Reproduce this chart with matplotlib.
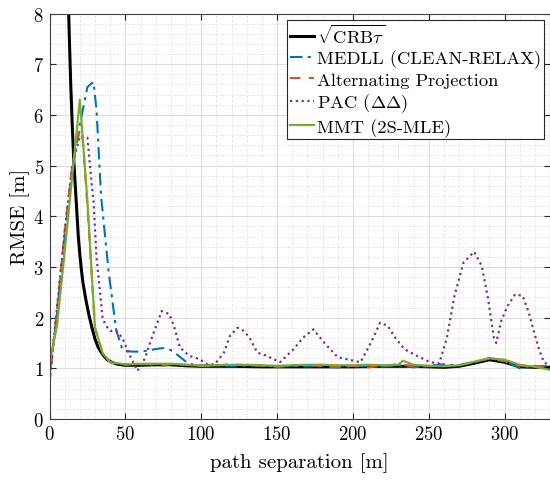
import numpy as np
import matplotlib
matplotlib.use("Agg")
import matplotlib.pyplot as plt
from matplotlib.ticker import MultipleLocator

plt.rcParams['font.family'] = 'cmr10'
plt.rcParams['mathtext.fontset'] = 'cm'
plt.rcParams['axes.formatter.use_mathtext'] = True

# sqrt(CRB tau)
x_crb = [12, 13, 14, 15, 16, 17, 18, 19, 20, 21, 22, 24, 26, 28, 30, 32, 34, 36, 38, 41, 45, 50,
         60, 70, 80, 90, 100, 120, 140, 160, 180, 200, 220, 240, 250, 260, 270, 280, 290, 300,
         310, 320, 330]
y_crb = [8.8, 7.6, 6.6, 5.8, 5.1, 4.6, 4.1, 3.6, 3.25, 2.95, 2.7, 2.35, 2.05, 1.8, 1.58, 1.42,
         1.32, 1.24, 1.17, 1.12, 1.08, 1.06, 1.06, 1.07, 1.07, 1.05, 1.04, 1.04, 1.03, 1.03, 1.03,
         1.03, 1.04, 1.04, 1.03, 1.02, 1.04, 1.1, 1.17, 1.12, 1.03, 1.02, 1.02]

# MEDLL (CLEAN-RELAX)
x_medll = [0, 5, 10, 15, 20, 25, 29, 31, 34, 39, 44, 48, 50, 55, 60, 65, 70, 75, 80, 85, 90, 95,
           100, 110, 120, 130, 140, 150, 160, 170, 180, 190, 200, 210, 220, 230, 240, 250, 260,
           270, 280, 290, 300, 310, 320, 330]
y_medll = [0.85, 2.1, 3.6, 4.9, 5.8, 6.55, 6.65, 6.1, 4.4, 2.9, 1.75, 1.38, 1.34, 1.33, 1.33,
           1.35, 1.38, 1.4, 1.36, 1.25, 1.13, 1.07, 1.05, 1.06, 1.05, 1.05, 1.06, 1.03, 1.05,
           1.04, 1.05, 1.02, 1.04, 1.05, 1.04, 1.06, 1.02, 1.05, 1.08, 1.06, 1.12, 1.2, 1.15,
           1.0, 1.04, 1.05]

# Alternating Projection
x_ap = [0, 5, 10, 15, 20, 22, 25, 30, 35, 40, 45, 50, 55, 60, 65, 70, 75, 80, 90, 100, 110, 120,
        130, 140, 150, 160, 170, 180, 190, 200, 210, 220, 230, 240, 250, 260, 270, 280, 290, 300,
        310, 320, 330]
y_ap = [0.7, 2.2, 3.7, 5.0, 5.7, 5.5, 4.2, 1.8, 1.3, 1.12, 1.09, 1.07, 1.08, 1.08, 1.08, 1.07,
        1.05, 1.08, 1.07, 1.05, 1.06, 1.08, 1.06, 1.05, 1.03, 1.06, 1.07, 1.04, 1.03, 1.05, 1.02,
        1.05, 1.08, 1.04, 1.04, 1.05, 1.06, 1.13, 1.19, 1.14, 1.05, 1.05, 1.03]

# PAC (Delta Delta)
x_pac = [0, 5, 10, 15, 20, 25, 27, 29, 31, 33, 35, 37, 40, 44, 48, 53, 58, 63, 68, 74, 79, 82,
         86, 92, 99, 104, 109, 115, 119, 124, 128, 132, 137, 143, 152, 161, 167, 174, 181, 190,
         196, 205, 212, 218, 223, 228, 234, 240, 251, 257, 262, 267, 273, 280, 285, 289, 293,
         294.5, 298, 302, 307, 312, 316, 319, 323, 326, 330]
y_pac = [0.75, 2.2, 3.7, 5.0, 5.58, 5.55, 4.9, 4.3, 3.2, 2.6, 2.0, 1.85, 1.74, 1.74, 1.6, 1.25,
         0.95, 1.2, 1.65, 2.13, 2.07, 1.84, 1.41, 1.25, 1.18, 1.08, 1.08, 1.31, 1.64, 1.8, 1.74,
         1.6, 1.31, 1.25, 1.12, 1.38, 1.6, 1.77, 1.51, 1.22, 1.18, 1.12, 1.51, 1.9, 1.84, 1.6,
         1.38, 1.28, 1.12, 1.1, 1.6, 2.43, 3.09, 3.3, 3.02, 2.4, 1.6, 1.5, 1.95, 2.23, 2.46,
         2.43, 2.1, 1.77, 1.35, 1.12, 1.05]

# MMT (2S-MLE)
x_mmt = [0, 5, 10, 15, 20, 25, 30, 35, 40, 45, 50, 60, 70, 80, 90, 100, 110, 120, 130, 140, 150,
         160, 170, 180, 190, 200, 210, 220, 230, 233, 240, 250, 260, 270, 280, 290, 300, 310,
         320, 330]
y_mmt = [1.1, 1.85, 3.3, 4.8, 6.3, 4.3, 1.8, 1.3, 1.12, 1.1, 1.08, 1.09, 1.09, 1.09, 1.07, 1.05,
         1.06, 1.07, 1.07, 1.06, 1.05, 1.06, 1.07, 1.07, 1.06, 1.06, 1.07, 1.06, 1.07, 1.15, 1.07,
         1.05, 1.04, 1.06, 1.13, 1.2, 1.17, 1.07, 1.03, 0.97]

fig = plt.figure(figsize=(5.5, 4.81), dpi=100)
ax = fig.add_axes([0.09, 0.1268, 0.91, 0.843])

ax.plot(x_crb, y_crb, color='k', lw=2.2, label=r'$\sqrt{\mathrm{CRB}\tau}$')
ax.plot(x_medll, y_medll, color='#0072BD', lw=1.5, ls=(0, (6, 2.5, 1.5, 2.5)),
        label='MEDLL (CLEAN-RELAX)')
ax.plot(x_ap, y_ap, color='#D95319', lw=1.5, ls=(0, (5, 4)), label='Alternating Projection')
ax.plot(x_pac, y_pac, color='#7E2F8E', lw=1.6, ls=(0, (1, 1.6)), label=r'PAC ($\Delta\Delta$)')
ax.plot(x_mmt, y_mmt, color='#77AC30', lw=1.6, label='MMT (2S-MLE)')

ax.set_xlim(0, 330)
ax.set_ylim(0, 8)
ax.xaxis.set_major_locator(MultipleLocator(50))
ax.xaxis.set_minor_locator(MultipleLocator(10))
ax.yaxis.set_major_locator(MultipleLocator(1))
ax.yaxis.set_minor_locator(MultipleLocator(0.2))
ax.grid(which='major', color='#dedede', lw=0.8, ls='-')
ax.grid(which='minor', color='#d0d0d0', lw=0.6, ls=(0, (1, 2)))
ax.set_axisbelow(True)
ax.tick_params(which='major', direction='in', length=4, width=0.8, color='#262626',
               labelsize=13.5, top=True, right=True, pad=4)
ax.tick_params(which='minor', length=0)
for s in ax.spines.values():
    s.set_color('#404040')
    s.set_linewidth(0.8)

ax.set_xlabel('path separation [m]', fontsize=15, labelpad=7)
ax.set_ylabel('RMSE [m]', fontsize=15, labelpad=2)

leg = ax.legend(loc='upper right', fontsize=13.3, fancybox=False, framealpha=1,
                edgecolor='#262626', borderaxespad=0.35, handlelength=1.3,
                handletextpad=0.15, labelspacing=0.2, borderpad=0.15)
leg.get_frame().set_linewidth(0.8)

fig.savefig('out.png', dpi=100)
